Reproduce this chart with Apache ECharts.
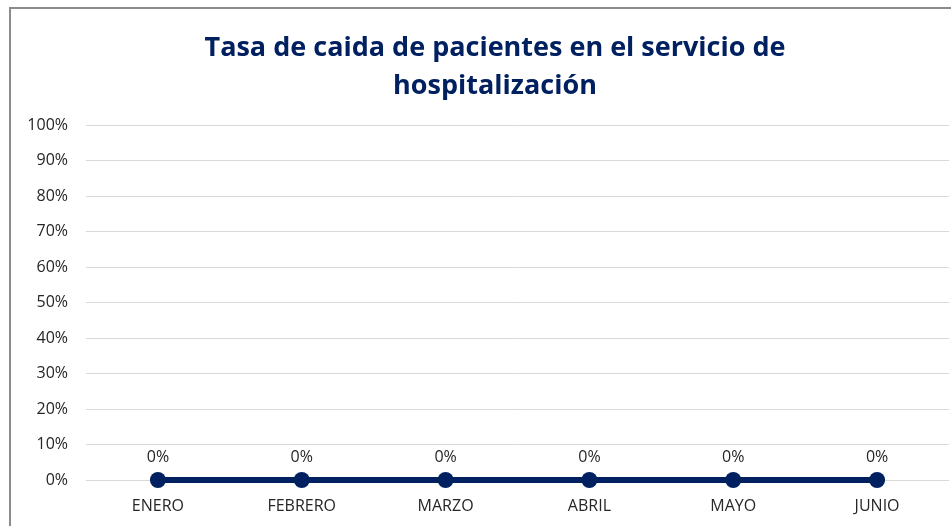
<!DOCTYPE html>
<html>
<head>
<meta charset="utf-8">
<script src="https://cdn.jsdelivr.net/npm/echarts@6/dist/echarts.min.js"></script>
<style>
  html, body { margin: 0; padding: 0; background: #fff; }
  #chart { width: 951px; height: 526px; }
</style>
</head>
<body>
<div id="chart"></div>
<script>
const months = ['ENERO', 'FEBRERO', 'MARZO', 'ABRIL', 'MAYO', 'JUNIO'];
const tasa = [0, 0, 0, 0, 0, 0];

const chart = echarts.init(document.getElementById('chart'));
const font = 'Open Sans';

const option = {
  animation: false,
  graphic: [
    {
      type: 'rect',
      shape: { x: 10, y: 8, width: 960, height: 540 },
      style: { fill: 'none', stroke: '#8c8c8c', lineWidth: 2 }
    }
  ],
  title: {
    text: 'Tasa de caida de pacientes en el servicio de\nhospitalización',
    left: 490,
    top: 24,
    textAlign: 'center',
    textStyle: {
      fontFamily: font,
      fontSize: 27,
      fontWeight: 'bold',
      color: '#002060',
      lineHeight: 38
    }
  },
  grid: { left: 86, right: 2, top: 125, bottom: 46 },
  xAxis: {
    type: 'category',
    data: months,
    boundaryGap: true,
    axisLine: { show: false },
    axisTick: { show: false },
    axisLabel: { color: '#262626', fontFamily: font, fontSize: 16, margin: 18 }
  },
  yAxis: {
    type: 'value',
    min: 0,
    max: 1,
    interval: 0.1,
    axisLabel: {
      color: '#262626',
      fontFamily: font,
      fontSize: 16,
      margin: 18,
      formatter: v => Math.round(v * 100) + '%'
    },
    splitLine: { lineStyle: { color: '#d9d9d9', width: 1 } }
  },
  series: [
    {
      type: 'line',
      data: tasa,
      symbol: 'circle',
      symbolSize: 16,
      lineStyle: { color: '#002060', width: 6 },
      itemStyle: { color: '#002060' },
      label: {
        show: true,
        position: 'top',
        distance: 7,
        color: '#262626',
        fontFamily: font,
        fontSize: 16,
        formatter: p => Math.round(p.value * 100) + '%'
      }
    }
  ]
};

chart.setOption(option);
</script>
</body>
</html>
